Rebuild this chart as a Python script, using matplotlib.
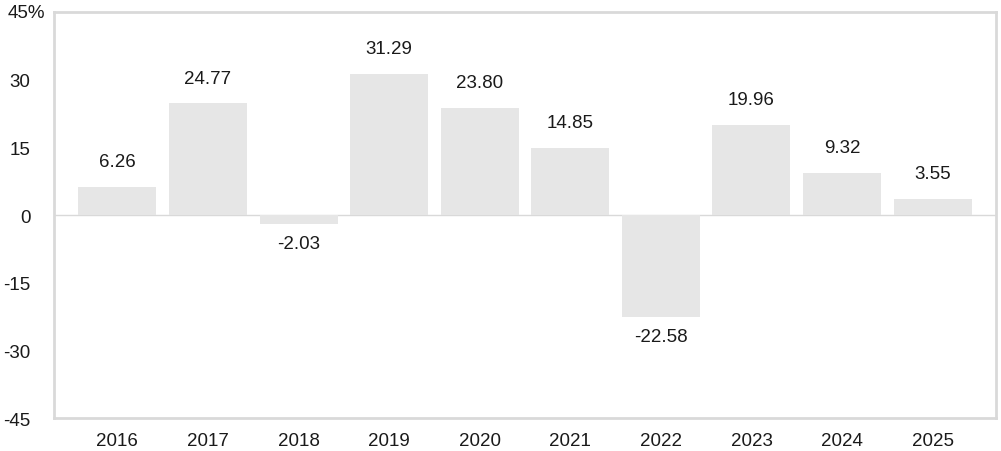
import matplotlib
matplotlib.use('Agg')
import matplotlib.pyplot as plt

plt.rcParams['font.family'] = ['Liberation Sans', 'DejaVu Sans']

anos = ['2016', '2017', '2018', '2019', '2020', '2021', '2022', '2023', '2024', '2025']
retornos = [6.26, 24.77, -2.03, 31.29, 23.80, 14.85, -22.58, 19.96, 9.32, 3.55]
yticks = [-45, -30, -15, 0, 15, 30, 45]

fig = plt.figure(figsize=(10.01, 4.52), dpi=100)
ax = fig.add_axes([54 / 1001, 1 - 419 / 452, 942 / 1001, 406 / 452])

x = range(len(anos))
ax.bar(x, retornos, width=0.86, color='#e6e6e6', zorder=2)
ax.axhline(0, color='#d9d9d9', linewidth=1, zorder=1)

# rótulos de valor acima / abaixo das barras
for xi, v in zip(x, retornos):
    if v >= 0:
        ax.annotate(f'{v:.2f}', (xi, v), xytext=(0, 12), textcoords='offset points',
                    ha='center', va='bottom', fontsize=13.5, color='#1a1a1a')
    else:
        ax.annotate(f'{v:.2f}', (xi, v), xytext=(0, -8), textcoords='offset points',
                    ha='center', va='top', fontsize=13.5, color='#1a1a1a')

ax.set_xlim(-0.7, len(anos) - 0.3)
ax.set_ylim(-45, 45)
ax.set_xticks(list(x))
ax.set_xticklabels(anos)
ax.set_yticks(yticks)
# o 45 do topo vai junto com o "%" mais abaixo
ax.set_yticklabels([str(t) if t != 45 else '' for t in yticks])
ax.tick_params(axis='both', length=0, labelsize=13.5, colors='#1a1a1a')
ax.tick_params(axis='y', pad=17)
ax.tick_params(axis='x', pad=10)

ax.annotate('45%', (0, 45), xycoords=('axes fraction', 'data'), xytext=(-33.5, 0),
            textcoords='offset points', ha='left', va='center', fontsize=13.5, color='#1a1a1a')

for s in ax.spines.values():
    s.set_color('#d9d9d9')
    s.set_linewidth(2)

fig.savefig('out.png', dpi=100)
